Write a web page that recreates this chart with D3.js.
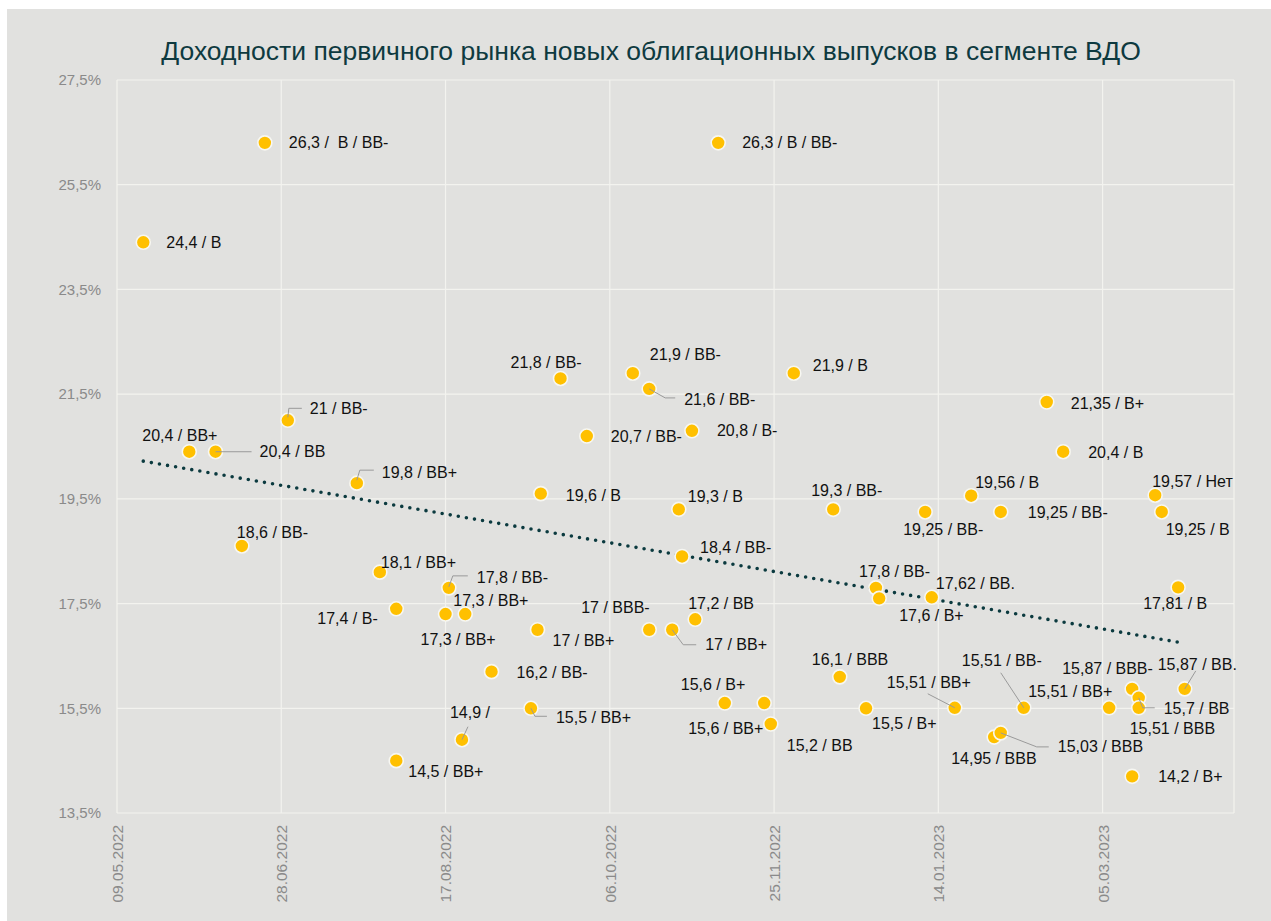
<!DOCTYPE html>
<html>
  <head>
    <meta charset="utf-8">
    <title>Доходности ВДО</title>
    <script src="https://d3js.org/d3.v7.min.js"></script>
    <style>
      body { margin: 0; background: #ffffff; }
      text { font-family: "Liberation Sans", Arial, sans-serif; }
    </style>
  </head>
  <body>

    <script>
      // ==================
      // Data
      // ==================
      const title = "Доходности первичного рынка новых облигационных выпусков в сегменте ВДО";

      const dates = [
        "17.05.2022", "31.05.2022", "08.06.2022", "16.06.2022", "23.06.2022", "30.06.2022",
        "21.07.2022", "28.07.2022", "02.08.2022", "02.08.2022", "17.08.2022", "18.08.2022",
        "22.08.2022", "23.08.2022", "31.08.2022", "12.09.2022", "14.09.2022", "15.09.2022",
        "21.09.2022", "29.09.2022", "13.10.2022", "18.10.2022", "18.10.2022", "25.10.2022",
        "27.10.2022", "28.10.2022", "31.10.2022", "01.11.2022", "08.11.2022", "10.11.2022",
        "22.11.2022", "24.11.2022", "01.12.2022", "13.12.2022", "15.12.2022", "23.12.2022",
        "26.12.2022", "27.12.2022", "10.01.2023", "12.01.2023", "19.01.2023", "24.01.2023",
        "31.01.2023", "02.02.2023", "02.02.2023", "09.02.2023", "16.02.2023", "21.02.2023",
        "07.03.2023", "14.03.2023", "14.03.2023", "16.03.2023", "16.03.2023", "21.03.2023",
        "23.03.2023", "28.03.2023", "30.03.2023"
      ];

      const yields = [
        24.4, 20.4, 20.4, 18.6, 26.3, 21,
        19.8, 18.1, 17.4, 14.5, 17.3, 17.8,
        14.9, 17.3, 16.2, 15.5, 17, 19.6,
        21.8, 20.7, 21.9, 21.6, 17, 17,
        19.3, 18.4, 20.8, 17.2, 26.3, 15.6,
        15.6, 15.2, 21.9, 19.3, 16.1, 15.5,
        17.8, 17.6, 19.25, 17.62, 15.51, 19.56,
        14.95, 15.03, 19.25, 15.51, 21.35, 20.4,
        15.51, 15.87, 14.2, 15.7, 15.51, 19.57,
        19.25, 17.81, 15.87
      ];

      const ratings = [
        "B", "BB+", "BB", "BB-", " B / BB-", "BB-",
        "BB+", "BB+", "B-", "BB+", "BB+", "BB-",
        "", "BB+", "BB-", "BB+", "BB+", "B",
        "BB-", "BB-", "BB-", "BB-", "BBB-", "BB+",
        "B", "BB-", "B-", "BB", "B / BB-", "B+",
        "BB+", "BB", "B", "BB-", "BBB", "B+",
        "BB-", "B+", "BB-", "BB.", "BB+", "B",
        "BBB", "BBB", "BB-", "BB-", "B+", "B",
        "BB+", "BBB-", "B+", "BB", "BBB", "Нет",
        "B", "B", "BB."
      ];

      const yTicks = [13.5, 15.5, 17.5, 19.5, 21.5, 23.5, 25.5, 27.5];
      const xStart = "09.05.2022";
      const xTickStepDays = 50;

      // ==================
      // Label layout (offset of label from its point, optional leader line)
      // ==================
      const labelOffsets = [
        [23, 0], [-47, -16], [44, 0], [-5, -14], [24, 0], [22, -12],
        [25, -11], [1, -10], [-79, 10], [12, 11], [-25, 25], [28, -10],
        [-12, -27], [-12, -14], [25, 1], [25, 9], [15, 11], [25, 2],
        [-50, -16], [24, 0], [17, -19], [35, 10], [-68, -22], [33, 15],
        [9, -13], [18, -9], [25, 0], [-7, -16], [24, 0], [-44, -19],
        [-76, 25], [16, 21], [19, -8], [-22, -19], [-28, -17], [6, 15],
        [-17, -16], [20, 17], [-22, 17], [4, -14], [-68, -25], [4, -13],
        [-43, 21], [57, 14], [27, 0], [-62, -47], [24, 1], [25, 1],
        [-81, -16], [-70, -21], [26, 0], [25, 11], [-9, 21], [-3, -14],
        [4, 17], [-35, 16], [-27, -25]
      ];

      const leaders = {
        2: [[0, 0], [36, 0]],
        5: [[0, -3], [1, -12], [14, -12]],
        6: [[0, -3], [3, -13], [17, -13]],
        11: [[0, -1], [4, -12], [19, -12]],
        12: [[0, 0], [6, -13]],
        15: [[0, 0], [4, 8], [16, 8]],
        21: [[0, 0], [16, 9], [26, 9]],
        23: [[0, 0], [11, 15], [24, 15]],
        40: [[0, 0], [-27, -14]],
        43: [[0, 0], [36, 14], [48, 14]],
        45: [[0, 0], [-23, -35]],
        51: [[0, 0], [4, 10], [16, 10]],
        56: [[0, 0], [11, -18]]
      };

      // ==================
      // Chart
      // ==================
      const width = 1271;
      const height = 921;
      const plot = { left: 117, right: 1234, top: 80, bottom: 813 };

      const parseDate = d3.utcParse("%d.%m.%Y");
      const fmtDate = d3.utcFormat("%d.%m.%Y");
      const day = 24 * 3600 * 1000;

      const start = parseDate(xStart);
      const points = dates.map(function(d, i) {
        return { date: parseDate(d), value: yields[i], rating: ratings[i], i: i };
      });

      const svg = d3.select("body")
        .append("svg")
          .attr("width", width)
          .attr("height", height);

      // background
      svg.append("rect")
        .attr("x", 7).attr("y", 9)
        .attr("width", width - 7).attr("height", height - 9)
        .attr("fill", "#e1e1df");

      const xScale = d3.scaleUtc()
        .domain([start, new Date(+start + 340 * day)])
        .range([plot.left, plot.right]);

      const yScale = d3.scaleLinear()
        .domain([13.5, 27.5])
        .range([plot.bottom, plot.top]);

      const xTicks = d3.range(0, 301, xTickStepDays).map(function(n) {
        return new Date(+start + n * day);
      });

      // gridlines
      const grid = svg.append("g").attr("stroke", "#f3f3ef").attr("stroke-width", 1.2);
      grid.selectAll("line.h")
        .data(yTicks)
        .enter().append("line")
          .attr("x1", plot.left).attr("x2", plot.right)
          .attr("y1", function(d) { return yScale(d); })
          .attr("y2", function(d) { return yScale(d); });
      grid.selectAll("line.v")
        .data(xTicks)
        .enter().append("line")
          .attr("y1", plot.top).attr("y2", plot.bottom)
          .attr("x1", function(d) { return xScale(d); })
          .attr("x2", function(d) { return xScale(d); });
      grid.append("line")
        .attr("x1", plot.right).attr("x2", plot.right)
        .attr("y1", plot.top).attr("y2", plot.bottom);

      // axes
      const yAxis = d3.axisLeft(yScale)
        .tickValues(yTicks)
        .tickSize(0)
        .tickPadding(16)
        .tickFormat(function(d) { return d3.format(".1f")(d).replace(".", ",") + "%"; });

      svg.append("g")
        .attr("transform", "translate(" + plot.left + ",0)")
        .call(yAxis)
        .call(function(g) { g.select(".domain").remove(); })
        .selectAll("text")
          .attr("fill", "#8a8a8a")
          .style("font-size", "15px")
          .style("font-family", "'Liberation Sans', Arial, sans-serif");

      const xAxis = d3.axisBottom(xScale)
        .tickValues(xTicks)
        .tickSize(0)
        .tickFormat(fmtDate);

      svg.append("g")
        .attr("transform", "translate(0," + plot.bottom + ")")
        .call(xAxis)
        .call(function(g) { g.select(".domain").remove(); })
        .selectAll("text")
          .attr("fill", "#8a8a8a")
          .style("font-size", "15.5px")
          .style("font-family", "'Liberation Sans', Arial, sans-serif")
          .attr("text-anchor", "end")
          .attr("dy", "0.35em")
          .attr("transform", "translate(0,12) rotate(-90)")
          .attr("x", 0)
          .attr("y", 0);

      // linear trend (least squares on date vs yield)
      const xs = points.map(function(p) { return (+p.date - +start) / day; });
      const ys = points.map(function(p) { return p.value; });
      const mx = d3.mean(xs), my = d3.mean(ys);
      const slope = d3.sum(xs, function(x, i) { return (x - mx) * (ys[i] - my); }) /
                    d3.sum(xs, function(x) { return (x - mx) * (x - mx); });
      const icpt = my - slope * mx;
      const xExt = d3.extent(xs);
      const trend = xExt.map(function(x) {
        return { date: new Date(+start + x * day), value: icpt + slope * x };
      });

      const line = d3.line()
        .x(function(d) { return xScale(d.date); })
        .y(function(d) { return yScale(d.value); });

      svg.append("path")
        .attr("d", line(trend))
        .attr("fill", "none")
        .attr("stroke", "#0b3a3f")
        .attr("stroke-width", 3.6)
        .attr("stroke-linecap", "round")
        .attr("stroke-dasharray", "0,8.2");

      // points
      svg.append("g")
        .selectAll("circle")
        .data(points)
        .enter().append("circle")
          .attr("cx", function(d) { return xScale(d.date); })
          .attr("cy", function(d) { return yScale(d.value); })
          .attr("r", 7)
          .attr("fill", "#ffc000")
          .attr("stroke", "#f7f7f2")
          .attr("stroke-width", 1.6);

      // leader lines
      svg.append("g")
        .selectAll("polyline")
        .data(points.filter(function(p) { return leaders[p.i]; }))
        .enter().append("polyline")
          .attr("points", function(d) {
            const px = xScale(d.date), py = yScale(d.value);
            return leaders[d.i].map(function(o) { return (px + o[0]) + "," + (py + o[1]); }).join(" ");
          })
          .attr("fill", "none")
          .attr("stroke", "#9a9a9a")
          .attr("stroke-width", 1);

      // data labels
      svg.append("g")
        .selectAll("text")
        .data(points)
        .enter().append("text")
          .attr("x", function(d) { return xScale(d.date) + labelOffsets[d.i][0]; })
          .attr("y", function(d) { return yScale(d.value) + labelOffsets[d.i][1]; })
          .attr("dy", "0.35em")
          .attr("fill", "#111111")
          .style("font-size", "16px")
          .style("white-space", "pre")
          .text(function(d) {
            const v = String(d.value).replace(".", ",");
            return d.rating ? v + " / " + d.rating : v + " /";
          });

      // title
      svg.append("text")
        .attr("x", 651)
        .attr("y", 60)
        .attr("text-anchor", "middle")
        .attr("fill", "#0e3a40")
        .style("font-size", "26.5px")
        .text(title);
    </script>
  </body>
</html>
